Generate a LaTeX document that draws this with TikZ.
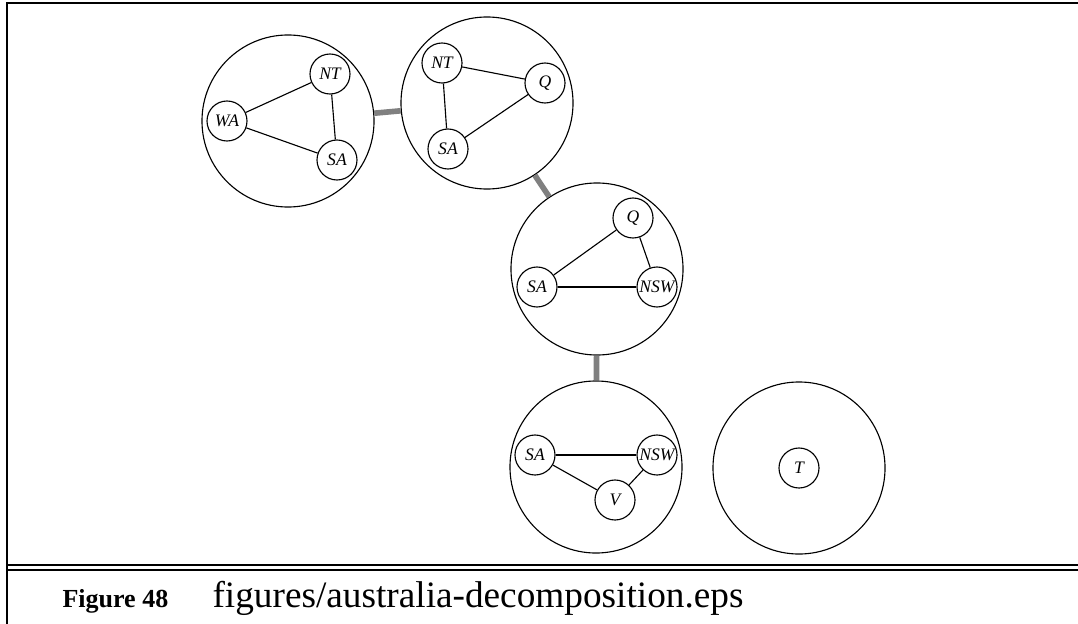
\documentclass[tikz,border=0pt]{standalone}
\usepackage{fontspec}
\setmainfont{Liberation Serif}
\begin{document}
\begin{tikzpicture}[x=0.025cm,y=-0.025cm,line width=0.8pt,
    cluster/.style={circle, draw, line width=0.8pt, minimum size=4.3cm, inner sep=0pt},
    var/.style={circle, draw, fill=white, line width=0.8pt, minimum size=1cm, inner sep=0pt, font=\fontsize{12.5}{14}\itshape},
    sep/.style={line width=4pt, gray},
    frame/.style={line width=1.6pt}]
    \useasboundingbox (0,0) rectangle (1078,624);

    % frame and caption
    \draw[frame] (1078,3) -- (7,3) -- (7,624);
    \draw[frame] (7,565) -- (1078,565);
    \draw[frame] (7,570) -- (1078,570);
    \node (fig_label) at (62,607) [anchor=base west, inner sep=0pt, font=\fontsize{18.5}{20}\bfseries] {Figure 48};
    \node (fig_file) at (212,607) [anchor=base west, inner sep=0pt, font=\fontsize{26.5}{30}\selectfont] {figures/australia-decomposition.eps};

    % cliques of the tree
    \node (c1) at (288,121) [cluster] {};
    \node (c2) at (487,103) [cluster] {};
    \node (c3) at (597,269) [cluster] {};
    \node (c4) at (596,467) [cluster] {};
    \node (c5) at (799,468) [cluster] {};

    \draw[sep] (c1) -- (c2);
    \draw[sep] (c2) -- (c3);
    \draw[sep] (c3) -- (c4);

    % first clique
    \node (wa1) at (227,121) [var] {WA};
    \node (nt1) at (330,74) [var] {NT};
    \node (sa1) at (337,160) [var] {SA};
    \draw (wa1) -- (nt1);
    \draw (wa1) -- (sa1);
    \draw (nt1) -- (sa1);

    % second clique
    \node (nt2) at (442,63) [var] {NT};
    \node (q2) at (545,83) [var] {Q};
    \node (sa2) at (448,149) [var] {SA};
    \draw (nt2) -- (q2);
    \draw (nt2) -- (sa2);
    \draw (q2) -- (sa2);

    % third clique
    \node (q3) at (633,218) [var] {Q};
    \node (sa3) at (537,287) [var] {SA};
    \node (nsw3) at (657,287) [var] {NSW};
    \draw (q3) -- (sa3);
    \draw (q3) -- (nsw3);
    \draw (sa3) -- (nsw3);

    % fourth clique
    \node (sa4) at (535,455) [var] {SA};
    \node (nsw4) at (657,455) [var] {NSW};
    \node (v4) at (615,500) [var] {V};
    \draw (sa4) -- (nsw4);
    \draw (sa4) -- (v4);
    \draw (nsw4) -- (v4);

    % tasmania
    \node (t5) at (799,468) [var] {T};
\end{tikzpicture}
\end{document}
